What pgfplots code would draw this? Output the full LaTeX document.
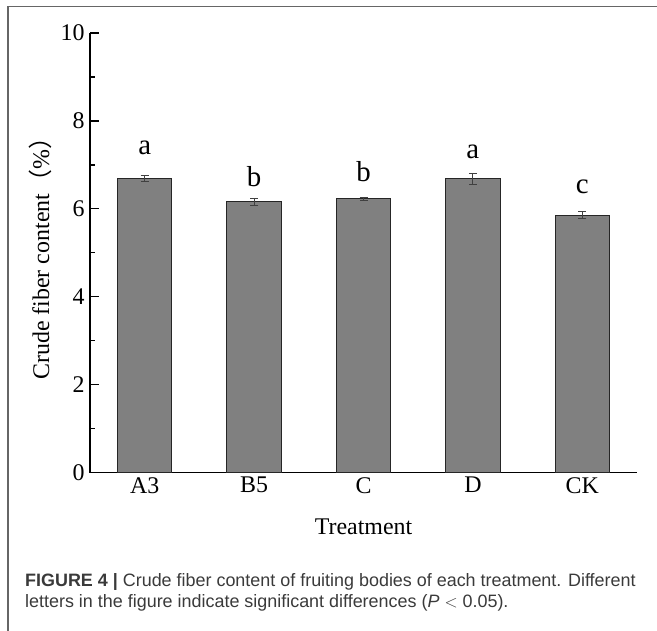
\documentclass[border=0pt]{standalone}
\usepackage{fontspec}
\setmainfont{Liberation Serif}
\newfontfamily\capfont{Liberation Sans}
\newfontfamily\cjk{Noto Sans CJK SC}
\usepackage{pgfplots}
\pgfplotsset{compat=1.18}
\definecolor{barfill}{HTML}{808080}
\definecolor{framegray}{HTML}{666666}
\definecolor{captext}{HTML}{3A3A3A}
\begin{document}
\begin{tikzpicture}
\useasboundingbox (0,0) rectangle (657bp,631bp);
\draw[framegray, line width=1.5bp] (8bp,0) -- (8bp,624.5bp) -- (657bp,624.5bp);
\begin{axis}[
  at={(90bp,158.3bp)}, anchor=south west,
  scale only axis, width=547bp, height=439.7bp,
  xmin=-0.5, xmax=4.5, ymin=0, ymax=10,
  axis x line*=bottom, axis y line*=left,
  axis line style={line width=1.2bp, black},
  xtick={0,1,2,3,4}, xticklabels={A3,B5,C,D,CK},
  ytick={0,2,4,6,8,10}, minor y tick num=1,
  major x tick style={draw=none},
  tick align=inside,
  major tick length=9bp, minor tick length=5bp,
  every tick/.style={black, line width=1.2bp},
  /pgf/number format/assume math mode=true,
  tick label style={font=\fontsize{24}{28}\selectfont},
  yticklabel style={xshift=-2bp},
  xticklabel style={yshift=-1bp},
  xlabel={Treatment},
  ylabel={Crude fiber content{\cjk （}\%{\cjk ）}},
  label style={font=\fontsize{24}{28}\selectfont},
  xlabel style={at={(axis description cs:0.5,-0.1228)}, anchor=center},
  ylabel style={at={(axis description cs:-0.0914,0.5)}, anchor=center, rotate=0},
  clip=false,
]
\addplot[ybar, bar width=54.5bp, fill=barfill, draw=black!85, line width=1bp,
  error bars/.cd, y dir=both, y explicit,
  error bar style={line width=0.9bp, black!75},
  error mark options={rotate=90, mark size=4bp, line width=0.9bp, black!75}]
  coordinates {
  (0,6.70) +- (0,0.07)
  (1,6.16) +- (0,0.08)
  (2,6.23) +- (0,0.04)
  (3,6.68) +- (0,0.13)
  (4,5.86) +- (0,0.08)
  };
\begin{scope}[every node/.style={font=\fontsize{29}{32}\selectfont, anchor=center}]
\node at (axis cs:0,7.38) {a};
\node at (axis cs:1,6.73) {b};
\node at (axis cs:2,6.85) {b};
\node at (axis cs:3,7.30) {a};
\node at (axis cs:4,6.50) {c};
\end{scope}
\end{axis}
\node[anchor=base west, inner sep=0, font=\capfont\fontsize{18}{21}\selectfont, text=captext] at (25bp,44bp)
  {{\bfseries FIGURE 4 |} Crude fiber content of fruiting bodies of each treatment. Different};
\node[anchor=base west, inner sep=0, font=\capfont\fontsize{18}{21}\selectfont, text=captext] at (25bp,23.3bp)
  {letters in the figure indicate significant differences ({\itshape P} $<$ 0.05).};
\end{tikzpicture}
\end{document}
